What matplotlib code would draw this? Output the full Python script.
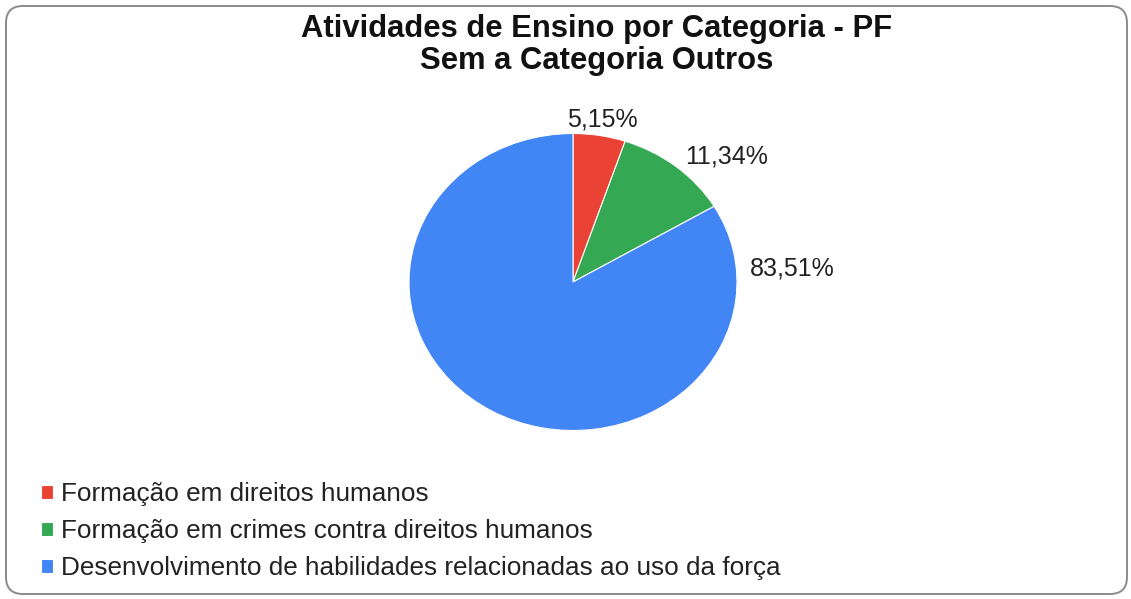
import numpy as np
import matplotlib
matplotlib.use("Agg")
import matplotlib.pyplot as plt
from matplotlib.patches import FancyBboxPatch

plt.rcParams['font.family'] = ['Liberation Sans', 'DejaVu Sans']

title = "Atividades de Ensino por Categoria - PF\nSem a Categoria Outros"
categories = ["Formação em direitos humanos",
              "Formação em crimes contra direitos humanos",
              "Desenvolvimento de habilidades relacionadas ao uso da força"]
values = [5.15, 11.34, 83.51]
value_labels = ["5,15%", "11,34%", "83,51%"]
colors = ["#EA4335", "#34A853", "#4285F4"]

W, H = 1131, 599
fig = plt.figure(figsize=(W / 100, H / 100), dpi=100)

# rounded border
border = FancyBboxPatch((6 / W, 5 / H), (1121) / W, (588) / H,
                        boxstyle="round,pad=0,rounding_size=0.015",
                        transform=fig.transFigure, facecolor="none",
                        edgecolor="#8a8a8a", linewidth=1.4, mutation_aspect=W / H,
                        zorder=5)
fig.patches.append(border)

# pie axes: ellipse centre (573, 282), rx 164, ry 148.5
cx, cy, rx, ry = 573, 282, 164, 148.5
ax = fig.add_axes([(cx - rx) / W, (H - cy - ry) / H, 2 * rx / W, 2 * ry / H])
wedges, _ = ax.pie(values, colors=colors, startangle=90, counterclock=False,
                   radius=1, wedgeprops=dict(edgecolor="white", linewidth=0.8))
ax.set_xlim(-1, 1)
ax.set_ylim(-1, 1)
ax.set_aspect("auto")
ax.axis("off")

# value labels
label_specs = [  # (angle deg, distance, ha)
    (None, 1.11, "center"),
    (None, 1.09, "left"),
    (5.0, 1.08, "left"),
]
for w, lab, (ang, d, ha) in zip(wedges, value_labels, label_specs):
    a = np.deg2rad((w.theta1 + w.theta2) / 2 if ang is None else ang)
    ax.text(d * np.cos(a), d * np.sin(a), lab, ha=ha, va="center",
            fontsize=18, color="#222222", clip_on=False)

for line, ybase in zip(title.split("\n"), [37, 69]):
    fig.text(597 / W, 1 - ybase / H, line, ha="center", va="baseline",
             fontsize=22.3, fontweight="bold", color="#111111")

leg = fig.legend(wedges, categories, loc="upper left",
                 bbox_to_anchor=(28 / W, 1 - 469 / H), frameon=False,
                 fontsize=18.8, handlelength=0.46, handleheight=0.44,
                 handletextpad=0.3, labelspacing=0.5, borderpad=0,
                 labelcolor="#222222")

fig.savefig("out.png", dpi=100)
